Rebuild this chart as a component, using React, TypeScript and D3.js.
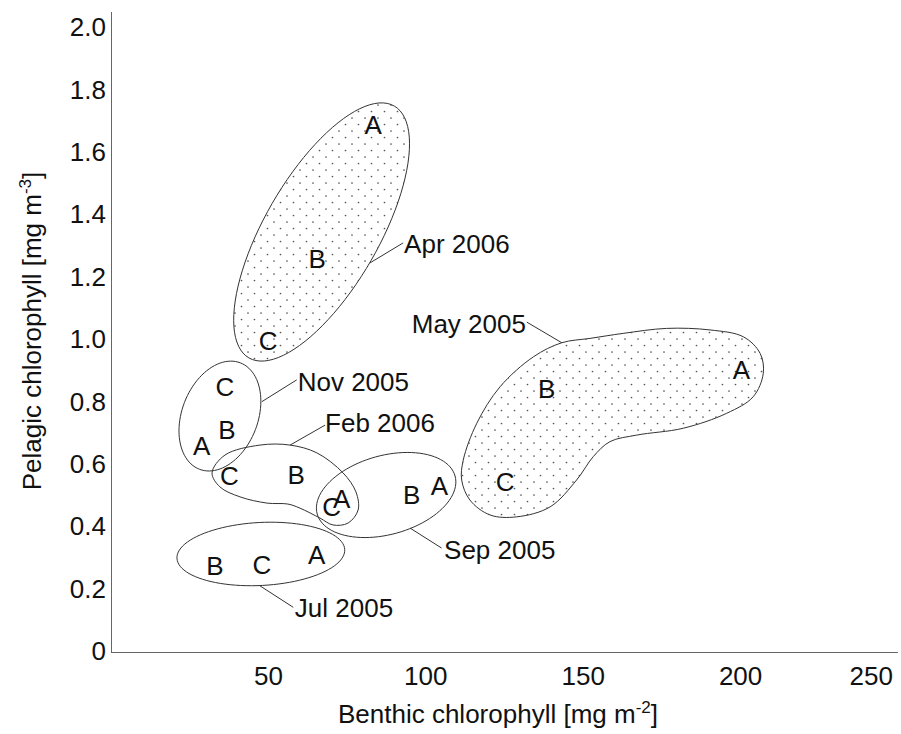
import React from 'react';
import * as d3 from 'd3';

// sites A, B, C for each sampling month: [benthic mg m-2, pelagic mg m-3]
const sites = ['A', 'B', 'C'];
const apr2006 = [[83.3, 1.686], [65.5, 1.259], [49.9, 0.994]];
const may2005 = [[200.3, 0.901], [138.4, 0.842], [125.2, 0.543]];
const nov2005 = [[28.8, 0.657], [36.8, 0.708], [36.2, 0.847]];
const feb2006 = [[73.3, 0.489], [58.8, 0.566], [37.6, 0.561]];
const sep2005 = [[104.3, 0.529], [95.5, 0.5], [70.1, 0.462]];
const jul2005 = [[65.3, 0.31], [33.0, 0.272], [47.9, 0.276]];

const xTicks = [50, 100, 150, 200, 250];
const yTicks = [0, 0.2, 0.4, 0.6, 0.8, 1.0, 1.2, 1.4, 1.6, 1.8, 2.0];
const yTickLabels = ['0', '0.2', '0.4', '0.6', '0.8', '1.0', '1.2', '1.4', '1.6', '1.8', '2.0'];

// outlines drawn round each month's sites (data units)
const febOutline = [
  [32.1, 0.571], [36.2, 0.628], [47.3, 0.66], [56.9, 0.66], [65.4, 0.635], [73.7, 0.571],
  [77.8, 0.51], [78.5, 0.452], [75.3, 0.41], [70.5, 0.404], [66.4, 0.426], [60.0, 0.458],
  [56.2, 0.471], [49.6, 0.474], [41.0, 0.494], [34.6, 0.526],
];
const mayOutline = [
  [143.2, 0.988], [134.2, 0.943], [123.6, 0.847], [116.2, 0.73], [111.9, 0.612], [111.4, 0.548],
  [114.0, 0.484], [120.4, 0.436], [128.9, 0.43], [139.5, 0.462], [147.9, 0.548], [153.2, 0.623],
  [158.5, 0.671], [167.0, 0.692], [181.8, 0.714], [195.6, 0.762], [204.0, 0.815], [207.2, 0.89],
  [206.2, 0.954], [200.9, 1.007], [190.3, 1.029], [176.5, 1.034], [162.7, 1.018], [152.2, 1.002],
];
// ellipses: centre in data units, semi axes in px, tilt in degrees
const ellipses = [
  { month: 'Apr 2006', cx: 66.9, cy: 1.343, a: 145.4, b: 57.1, tilt: -60, dotted: true },
  { month: 'Nov 2005', cx: 34.6, cy: 0.753, a: 57, b: 38, tilt: -69, dotted: false },
  { month: 'Sep 2005', cx: 87.4, cy: 0.5, a: 71.5, b: 39.5, tilt: -15.4, dotted: false },
  { month: 'Jul 2005', cx: 47.6, cy: 0.311, a: 84, b: 31.5, tilt: -3, dotted: false },
];

// month labels: leader from outline to text (data units)
const callouts = [
  { text: 'Apr 2006', from: [82.3, 1.244], to: [92.8, 1.308], tx: 93.1, ty: 1.304, anchor: 'start' },
  { text: 'May 2005', from: [143.2, 0.988], to: [132.1, 1.054], tx: 131.8, ty: 1.048, anchor: 'end' },
  { text: 'Nov 2005', from: [47.9, 0.799], to: [59.0, 0.869], tx: 59.3, ty: 0.864, anchor: 'start' },
  { text: 'Feb 2006', from: [56.9, 0.66], to: [68.0, 0.724], tx: 68.0, ty: 0.731, anchor: 'start' },
  { text: 'Sep 2005', from: [95.0, 0.394], to: [105.0, 0.33], tx: 105.8, ty: 0.325, anchor: 'start' },
  { text: 'Jul 2005', from: [47.3, 0.209], to: [57.9, 0.14], tx: 58.4, ty: 0.139, anchor: 'start' },
];

const W = 901;
const H = 734;
const FONT = '"Liberation Sans", Arial, sans-serif';

const x = d3.scaleLinear().domain([0, 250]).range([111, 898]);
const y = d3.scaleLinear().domain([0, 2]).range([651, 27]);

const ellipsePath = (e: typeof ellipses[number]) => {
  const cx = x(e.cx), cy = y(e.cy), th = (e.tilt * Math.PI) / 180;
  const pts = d3.range(0, 96).map(i => {
    const t = (i / 96) * 2 * Math.PI;
    return [
      cx + e.a * Math.cos(t) * Math.cos(th) - e.b * Math.sin(t) * Math.sin(th),
      cy + e.a * Math.cos(t) * Math.sin(th) + e.b * Math.sin(t) * Math.cos(th),
    ] as [number, number];
  });
  return d3.line().curve(d3.curveLinearClosed)(pts) as string;
};

const outlinePath = (pts: number[][]) =>
  d3.line<number[]>().x(d => x(d[0])).y(d => y(d[1])).curve(d3.curveCatmullRomClosed.alpha(0.5))(pts) as string;

export default function App() {
  const months = [apr2006, may2005, nov2005, feb2006, sep2005, jul2005];
  const shapeStroke = '#333';

  return (
    <svg width={W} height={H} style={{ position: 'absolute', left: 0, top: 0, background: '#fff' }}
      fontFamily={FONT}>
      <defs>
        <pattern id="dots" width={13} height={13} patternUnits="userSpaceOnUse">
          <rect width={13} height={13} fill="#fff" />
          <circle cx={1} cy={1} r={0.85} fill="#555" />
          <circle cx={7.5} cy={7.5} r={0.85} fill="#555" />
        </pattern>
      </defs>

      {/* outlines */}
      <path d={outlinePath(mayOutline)} fill="url(#dots)" stroke={shapeStroke} strokeWidth={1} />
      {ellipses.map(e => (
        <path key={e.month} d={ellipsePath(e)} fill={e.dotted ? 'url(#dots)' : 'none'}
          stroke={shapeStroke} strokeWidth={1} />
      ))}
      <path d={outlinePath(febOutline)} fill="none" stroke={shapeStroke} strokeWidth={1} />

      {/* axes */}
      <line x1={111.5} x2={111.5} y1={12} y2={652.5} stroke="#666" strokeWidth={1} />
      <line x1={111} x2={898} y1={652.5} y2={652.5} stroke="#666" strokeWidth={1} />
      {yTicks.map((v, i) => (
        <text key={v} x={106} y={y(v)} dy="0.35em" textAnchor="end" fontSize={26} fill="#111">
          {yTickLabels[i]}
        </text>
      ))}
      {xTicks.map((v, i) => {
        const last = i === xTicks.length - 1;
        return (
          <text key={v} x={last ? W - 8 : x(v)} y={685} textAnchor={last ? 'end' : 'middle'}
            fontSize={26} fill="#111">
            {v}
          </text>
        );
      })}
      <text x={498} y={723} textAnchor="middle" fontSize={26} fill="#111">
        Benthic chlorophyll [mg m<tspan dy={-10} fontSize={17}>-2</tspan><tspan dy={10}>]</tspan>
      </text>
      <text transform={`translate(41,331) rotate(-90)`} textAnchor="middle" fontSize={26} fill="#111">
        Pelagic chlorophyll [mg m<tspan dy={-10} fontSize={17}>-3</tspan><tspan dy={10}>]</tspan>
      </text>

      {/* leaders and month labels */}
      {callouts.map(c => (
        <g key={c.text}>
          <line x1={x(c.from[0])} y1={y(c.from[1])} x2={x(c.to[0])} y2={y(c.to[1])}
            stroke="#333" strokeWidth={1} />
          <text x={x(c.tx)} y={y(c.ty)} dy="0.35em" textAnchor={c.anchor} fontSize={26} fill="#111">
            {c.text}
          </text>
        </g>
      ))}

      {/* site letters */}
      {months.map((pts, m) =>
        pts.map((p, i) => (
          <text key={`${m}-${i}`} x={x(p[0])} y={y(p[1])} dy="0.36em" textAnchor="middle"
            fontSize={26} fill="#111">
            {sites[i]}
          </text>
        ))
      )}
    </svg>
  );
}
